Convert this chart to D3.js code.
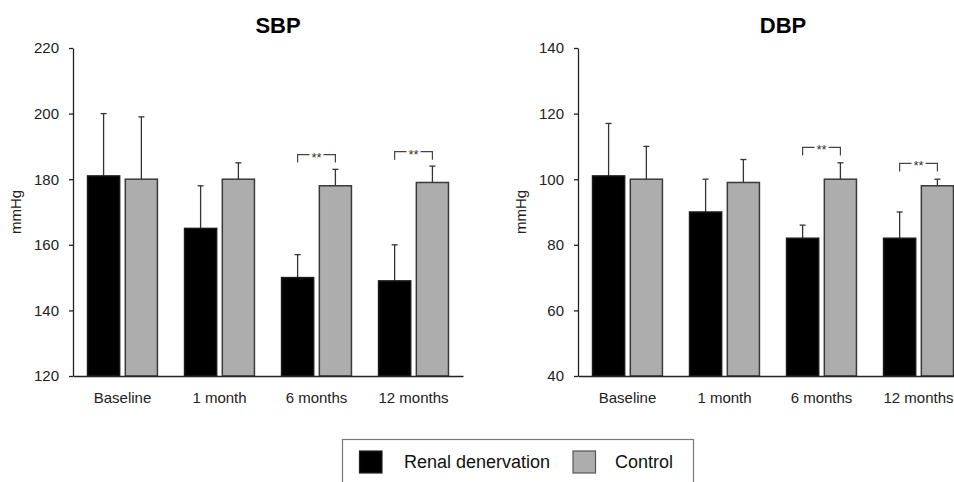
<!DOCTYPE html>
<html><head><meta charset="utf-8">
<script src="https://cdn.jsdelivr.net/npm/d3@7/dist/d3.min.js"></script>
<style>
html,body{margin:0;padding:0;background:#fff;}
svg{display:block;font-family:"Liberation Sans",Arial,sans-serif;}
</style></head>
<body>
<svg id="c" width="954" height="482"></svg>
<script>
const categories = ["Baseline", "1 month", "6 months", "12 months"];
const seriesNames = ["Renal denervation", "Control"];

const sbpRDN = [181, 165, 150, 149];
const sbpRDNErr = [19, 13, 7, 11];
const sbpCtl = [180, 180, 178, 179];
const sbpCtlErr = [19, 5, 5, 5];
const sbpSig = [null, null, 187.5, 188.4];
const sbpTicks = [120, 140, 160, 180, 200, 220];

const dbpRDN = [101, 90, 82, 82];
const dbpRDNErr = [16, 10, 4, 8];
const dbpCtl = [100, 99, 100, 98];
const dbpCtlErr = [10, 7, 5, 2];
const dbpSig = [null, null, 109.7, 104.8];
const dbpTicks = [40, 60, 80, 100, 120, 140];

const svg = d3.select("#c");
const fills = ["#000000", "#adadad"];
const strokes = ["#1a1a1a", "#3a3a3a"];

function panel(x0, title, ticks, rdn, rdnErr, ctl, ctlErr, sig) {
  const W = 390, yTop = 48, yBot = 376;
  const g = svg.append("g");
  const y = d3.scaleLinear().domain([ticks[0], ticks[ticks.length - 1]]).range([yBot, yTop]);
  const x = d3.scaleBand().domain(categories).range([x0, x0 + W]).paddingInner(0.264).paddingOuter(0.142);
  const xs = d3.scaleBand().domain(seriesNames).range([0, x.bandwidth()]).paddingInner(0.11);

  const vals = [rdn, ctl], errs = [rdnErr, ctlErr];
  seriesNames.forEach((s, si) => {
    const data = categories.map((c, i) => ({c, v: vals[si][i], e: errs[si][i]}));
    // error bars (upper only)
    const eg = g.append("g").attr("stroke", "#333").attr("stroke-width", 1.3).attr("fill", "none");
    data.forEach(d => {
      const cx = x(d.c) + xs(s) + xs.bandwidth() / 2;
      eg.append("line").attr("x1", cx).attr("x2", cx).attr("y1", y(d.v)).attr("y2", y(d.v + d.e));
      eg.append("line").attr("x1", cx - 3).attr("x2", cx + 3).attr("y1", y(d.v + d.e)).attr("y2", y(d.v + d.e));
    });
    g.append("g").selectAll("rect").data(data).join("rect")
      .attr("x", d => x(d.c) + xs(s) + 0.75)
      .attr("y", d => y(d.v))
      .attr("width", xs.bandwidth() - 1.5)
      .attr("height", d => yBot - y(d.v))
      .attr("fill", fills[si])
      .attr("stroke", strokes[si])
      .attr("stroke-width", 1.5);
  });

  // significance brackets
  categories.forEach((c, i) => {
    if (sig[i] == null) return;
    const xl = x(c) + xs(seriesNames[0]) + xs.bandwidth() / 2;
    const xr = x(c) + xs(seriesNames[1]) + xs.bandwidth() / 2;
    const yy = y(sig[i]);
    const xm = (xl + xr) / 2;
    const bg = g.append("g").attr("stroke", "#444").attr("stroke-width", 1.2).attr("fill", "none");
    bg.append("path").attr("d", `M${xl},${yy + 8}V${yy}H${xm - 7}`);
    bg.append("path").attr("d", `M${xm + 7},${yy}H${xr}V${yy + 8}`);
    g.append("text").attr("x", xm).attr("y", yy + 7).attr("text-anchor", "middle")
      .attr("font-size", 13).attr("fill", "#333").text("**");
  });

  // axes
  const ya = g.append("g").attr("transform", `translate(${x0},0)`)
    .call(d3.axisLeft(y).tickValues(ticks).tickSizeInner(4).tickSizeOuter(0).tickPadding(10));
  ya.selectAll("text").attr("font-size", 15).attr("fill", "#222").attr("font-family", "Liberation Sans, Arial, sans-serif");
  ya.selectAll("line,path").attr("stroke", "#222").attr("stroke-width", 1.3);

  const xa = g.append("g").attr("transform", `translate(0,${yBot})`)
    .call(d3.axisBottom(x).tickSizeInner(0).tickSizeOuter(0).tickPadding(16.5));
  xa.selectAll("text").attr("font-size", 15).attr("fill", "#222").attr("font-family", "Liberation Sans, Arial, sans-serif");
  xa.selectAll("path").attr("stroke", "#222").attr("stroke-width", 1.3);

  g.append("text").attr("transform", `translate(${x0 - 52},${(yTop + yBot) / 2}) rotate(-90)`)
    .attr("text-anchor", "middle").attr("font-size", 15).attr("fill", "#222").text("mmHg");

  g.append("text").attr("x", x0 + 205).attr("y", 32.5).attr("text-anchor", "middle")
    .attr("font-size", 22).attr("font-weight", "bold").attr("fill", "#000").text(title);
}

panel(73, "SBP", sbpTicks, sbpRDN, sbpRDNErr, sbpCtl, sbpCtlErr, sbpSig);
panel(578, "DBP", dbpTicks, dbpRDN, dbpRDNErr, dbpCtl, dbpCtlErr, dbpSig);

// legend
const lg = svg.append("g");
lg.append("rect").attr("x", 342.5).attr("y", 439.5).attr("width", 351).attr("height", 60)
  .attr("fill", "#fff").attr("stroke", "#777").attr("stroke-width", 1.2);
const legX = [359.5, 573];
const legTX = [404, 615];
seriesNames.forEach((s, i) => {
  lg.append("rect").attr("x", legX[i]).attr("y", 451).attr("width", 22.5).attr("height", 22)
    .attr("fill", fills[i]).attr("stroke", i ? "#555" : "#222").attr("stroke-width", 1.2);
  lg.append("text").attr("x", legTX[i]).attr("y", 467.5).attr("font-size", 18).attr("fill", "#111").text(s);
});
</script>
</body></html>
